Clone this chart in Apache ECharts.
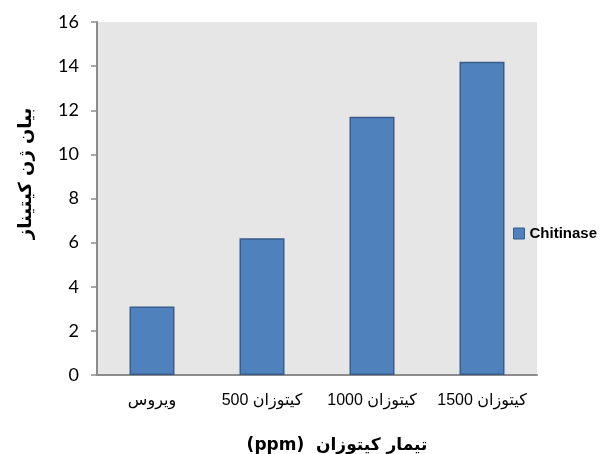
<!DOCTYPE html>
<html dir="rtl">
<head>
<meta charset="utf-8">
<script src="https://cdn.jsdelivr.net/npm/echarts@6/dist/echarts.min.js"></script>
<style>html,body{margin:0;padding:0;background:#fff}#c{width:603px;height:454px}</style>
</head>
<body>
<div id="c"></div>
<script>
const categories = ['ویروس', 'کیتوزان 500', 'کیتوزان 1000', 'کیتوزان 1500'];
const chitinase = [3.1, 6.2, 11.7, 14.2];
const seriesName = 'Chitinase';
const yTitle = 'بیان ژن کیتیناز';
const xTitle = 'تیمار کیتوزان  (ppm)';

const chart = echarts.init(document.getElementById('c'));
chart.setOption({
  animation: false,
  backgroundColor: '#ffffff',
  grid: { left: 97, right: 66, top: 22, bottom: 79, show: true, backgroundColor: '#e6e6e6', borderWidth: 0, outerBoundsMode: 'none', containLabel: false },
  legend: {
    data: [seriesName], left: 513, top: 226, orient: 'vertical', padding: 0,
    icon: 'rect', itemWidth: 11, itemHeight: 11, itemGap: 4,
    textStyle: { fontFamily: 'Liberation Sans, DejaVu Sans, sans-serif', fontWeight: 'bold', fontSize: 15, color: '#000' },
    itemStyle: { borderColor: '#385d8a', borderWidth: 1 }
  },
  xAxis: {
    type: 'category', data: categories,
    name: xTitle, nameLocation: 'middle', nameGap: 62,
    nameTextStyle: { fontFamily: 'DejaVu Sans, Liberation Sans, sans-serif', fontWeight: 'bold', fontSize: 17, color: '#000', padding: [0, 0, 0, 40] },
    axisLine: { lineStyle: { color: '#8c8c8c', width: 2 } },
    axisTick: { show: false },
    axisLabel: { interval: 0, hideOverlap: false, fontFamily: 'Liberation Sans, DejaVu Sans, sans-serif', fontSize: 16, color: '#000', margin: 18 }
  },
  yAxis: {
    type: 'value', min: 0, max: 16, interval: 2,
    name: yTitle, nameLocation: 'middle', nameGap: 62, nameRotate: 90,
    nameTextStyle: { fontFamily: 'DejaVu Sans, Liberation Sans, sans-serif', fontWeight: 'bold', fontSize: 18, color: '#000', padding: [0, 0, 0, 50] },
    axisLine: { show: true, lineStyle: { color: '#8c8c8c', width: 2 } },
    axisTick: { show: true, length: 6, lineStyle: { color: '#8c8c8c', width: 1.5 } },
    splitLine: { show: false },
    axisLabel: { fontFamily: 'Lato, Liberation Sans, sans-serif', fontSize: 18, color: '#000', margin: 18 }
  },
  series: [{
    name: seriesName, type: 'bar', data: chitinase, barWidth: 45,
    itemStyle: { color: '#4f81bd', borderColor: '#385d8a', borderWidth: 1.5 }
  }]
});
</script>
</body>
</html>
